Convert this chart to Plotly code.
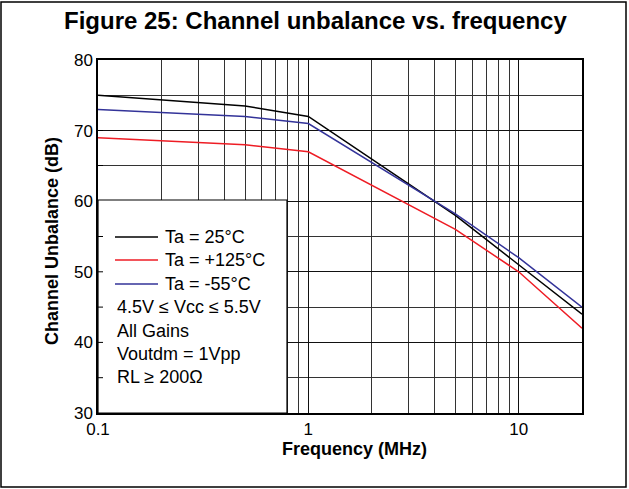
import plotly.graph_objects as go

# data
freq_mhz = [0.1, 0.5, 1, 5, 10, 20]
ta_25 = [75, 73.5, 72, 58, 51, 44]
ta_125 = [69, 68, 67, 56, 50, 42]
ta_m55 = [73, 72, 71, 58.2, 52, 45]

series = [
    ("Ta = 25°C", ta_25, "#000000"),
    ("Ta = +125°C", ta_125, "#ee1c24"),
    ("Ta = -55°C", ta_m55, "#333399"),
]
notes = ["4.5V ≤ Vcc ≤ 5.5V", "All Gains", "Voutdm = 1Vpp", "RL ≥ 200Ω"]
box_ticks = [35, 40, 45, 50, 55]  # y ticks that sit inside the note box

W, H = 629, 489
L, R, T, B = 98, 582, 60, 413  # plot area in pixels
FONT = "Liberation Sans, Arial, sans-serif"


def px_x(x):
    return (x - L) / (R - L)


def px_y(y):
    return (B - y) / (B - T)


fig = go.Figure()
for name, vals, col in series:
    fig.add_trace(go.Scatter(x=freq_mhz, y=vals, mode="lines", name=name,
                             line=dict(color=col, width=1.5), cliponaxis=True))

# outer frame
fig.add_shape(type="rect", xref="paper", yref="paper",
              x0=px_x(1), x1=px_x(626), y0=px_y(487), y1=px_y(2),
              line=dict(color="black", width=1.5), layer="above")
# legend / note box (covers the grid)
fig.add_shape(type="rect", xref="paper", yref="paper",
              x0=0, x1=px_x(287), y0=0, y1=px_y(200),
              fillcolor="white", line=dict(color="black", width=1.2), layer="above")
for v in box_ticks:
    fig.add_shape(type="line", xref="paper", yref="y", x0=0, x1=px_x(103), y0=v, y1=v,
                  line=dict(color="black", width=1), layer="above")

row_y = [237, 260, 284, 307, 331, 354, 377]
for i, (name, vals, col) in enumerate(series):
    fig.add_shape(type="line", xref="paper", yref="paper",
                  x0=px_x(115), x1=px_x(158), y0=px_y(row_y[i]), y1=px_y(row_y[i]),
                  line=dict(color=col, width=1.5), layer="above")
    fig.add_annotation(x=px_x(163), y=px_y(row_y[i]), xref="paper", yref="paper",
                       text=name, showarrow=False, xanchor="left", yanchor="middle",
                       font=dict(family=FONT, size=18, color="black"))
for j, txt in enumerate(notes):
    fig.add_annotation(x=px_x(115), y=px_y(row_y[3 + j]), xref="paper", yref="paper",
                       text=txt, showarrow=False, xanchor="left", yanchor="middle",
                       font=dict(family=FONT, size=18, color="black"))

# titles
fig.add_annotation(x=px_x(315), y=px_y(21), xref="paper", yref="paper",
                   text="<b>Figure 25: Channel unbalance vs. frequency</b>", showarrow=False,
                   xanchor="center", yanchor="middle", font=dict(family=FONT, size=24, color="black"))
fig.add_annotation(x=px_x(354), y=px_y(449), xref="paper", yref="paper",
                   text="<b>Frequency (MHz)</b>", showarrow=False,
                   xanchor="center", yanchor="middle", font=dict(family=FONT, size=18, color="black"))
fig.add_annotation(x=px_x(52), y=px_y(241), xref="paper", yref="paper",
                   text="<b>Channel Unbalance (dB)</b>", showarrow=False, textangle=-90,
                   xanchor="center", yanchor="middle", font=dict(family=FONT, size=18, color="black"))

minor_x = [0.2, 0.3, 0.4, 0.5, 0.6, 0.7, 0.8, 0.9, 2, 3, 4, 5, 6, 7, 8, 9]
fig.update_xaxes(type="log", range=[-1, 1.30103], tickmode="array",
                 tickvals=[0.1, 1, 10], ticktext=["0.1", "1", "10"],
                 showgrid=True, gridcolor="#111111", gridwidth=1,
                 minor=dict(tickmode="array", tickvals=minor_x, showgrid=True,
                            gridcolor="#333333", gridwidth=1),
                 showline=True, linecolor="black", linewidth=1.5, mirror=True,
                 ticks="", tickfont=dict(family=FONT, size=17, color="black"),
                 zeroline=False)
fig.update_yaxes(range=[30, 80], tickmode="linear", tick0=30, dtick=10,
                 showgrid=True, gridcolor="#111111", gridwidth=1,
                 minor=dict(dtick=5, showgrid=True, gridcolor="#333333", gridwidth=1,
                            ticks="inside", ticklen=5, tickcolor="black"),
                 ticks="inside", ticklen=5, tickcolor="black",
                 showline=True, linecolor="black", linewidth=1.5, mirror=True,
                 tickfont=dict(family=FONT, size=17, color="black"),
                 zeroline=False)

fig.update_layout(width=W, height=H, margin=dict(l=L, r=W - R, t=T, b=H - B),
                  paper_bgcolor="white", plot_bgcolor="white", showlegend=False)

fig.write_html("out.html", config={"displayModeBar": False},
               post_script="document.body.style.margin='0';")
